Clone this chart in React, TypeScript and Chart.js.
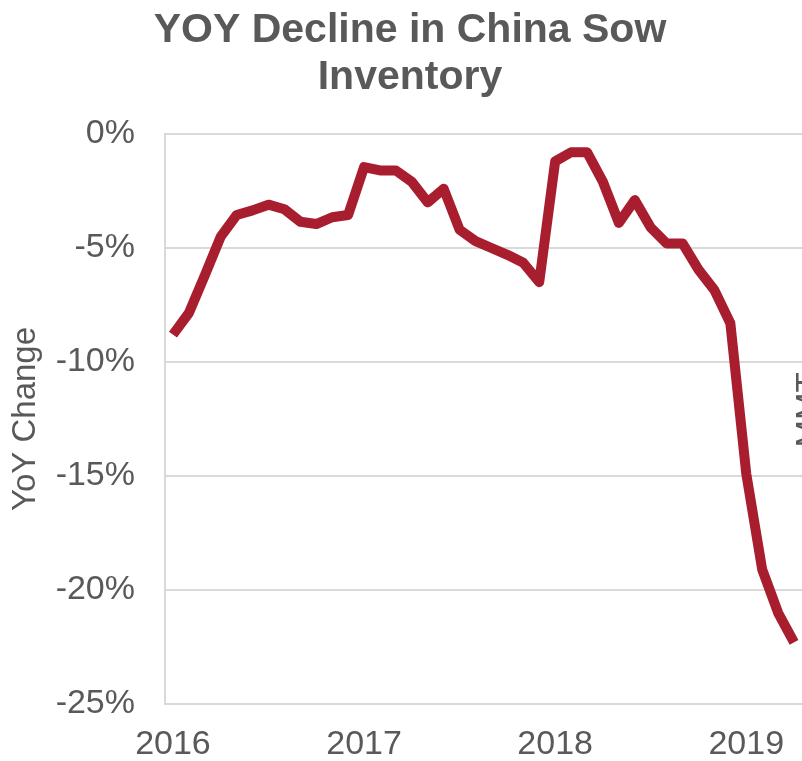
import React, { useEffect, useRef } from "react";
import { Chart, registerables } from "chart.js";

Chart.register(...registerables);

const months: string[] = [
  "2016-01","2016-02","2016-03","2016-04","2016-05","2016-06","2016-07","2016-08","2016-09","2016-10","2016-11","2016-12",
  "2017-01","2017-02","2017-03","2017-04","2017-05","2017-06","2017-07","2017-08","2017-09","2017-10","2017-11","2017-12",
  "2018-01","2018-02","2018-03","2018-04","2018-05","2018-06","2018-07","2018-08","2018-09","2018-10","2018-11","2018-12",
  "2019-01","2019-02","2019-03","2019-04",
];

const yoyChange: number[] = [
  -8.8, -7.85, -6.2, -4.5, -3.55, -3.35, -3.1, -3.3, -3.85, -3.95, -3.65, -3.55,
  -1.45, -1.6, -1.6, -2.1, -3.0, -2.4, -4.2, -4.7, -5.0, -5.3, -5.65, -6.5,
  -1.2, -0.8, -0.8, -2.1, -3.9, -2.9, -4.1, -4.8, -4.8, -5.95, -6.85, -8.3,
  -14.9, -19.1, -21.0, -22.3,
];

const yearLabels: string[] = ["2016", "2017", "2018", "2019"];
const titleLines: string[] = ["YOY Decline in China Sow", "Inventory"];
const yAxisTitle = "YoY Change";
const rightAxisTitle = "MMT";

const FONT = "'Liberation Sans', Arial, sans-serif";
const TEXT = "#595959";
const GRID = "#D9D9D9";

export default function App() {
  const ref = useRef<HTMLCanvasElement | null>(null);

  useEffect(() => {
    document.body.style.margin = "0";
    const canvas = ref.current;
    if (!canvas) return;

    const textPlugin = {
      id: "extraText",
      afterDraw(chart: any) {
        const ctx = chart.ctx as CanvasRenderingContext2D;
        ctx.save();
        ctx.fillStyle = TEXT;
        ctx.font = `bold 41px ${FONT}`;
        ctx.textAlign = "center";
        ctx.textBaseline = "alphabetic";
        ctx.fillText(titleLines[0], 410, 42);
        ctx.fillText(titleLines[1], 410, 89);
        ctx.restore();

        ctx.save();
        ctx.fillStyle = TEXT;
        ctx.font = `33px ${FONT}`;
        ctx.translate(819, 410);
        ctx.rotate(-Math.PI / 2);
        ctx.textAlign = "center";
        ctx.textBaseline = "alphabetic";
        ctx.fillText(rightAxisTitle, 0, 0);
        ctx.restore();
      },
    };

    const chart = new Chart(canvas, {
      type: "line",
      data: {
        labels: months,
        datasets: [
          {
            label: "YoY Change",
            data: yoyChange,
            borderColor: "#A81E2F",
            backgroundColor: "#A81E2F",
            borderWidth: 10,
            pointRadius: 0,
            tension: 0,
            borderJoinStyle: "round",
            borderCapStyle: "butt",
          },
        ],
      },
      options: {
        responsive: false,
        animation: false,
        devicePixelRatio: 1,
        layout: { padding: { top: 134, right: 0, left: 0, bottom: 0 } },
        plugins: {
          legend: { display: false },
          title: { display: false },
          tooltip: { enabled: false },
        },
        scales: {
          x: {
            type: "category",
            offset: true,
            grid: { display: false, drawTicks: false },
            border: { display: true, color: GRID, width: 2 },
            ticks: {
              autoSkip: false,
              maxRotation: 0,
              minRotation: 0,
              padding: 20,
              color: TEXT,
              font: { family: FONT, size: 34 },
              callback: (_v: any, i: number) => (i % 12 === 0 ? yearLabels[i / 12] : ""),
            },
            afterFit: (scale: any) => {
              scale.height = 57;
              scale.paddingLeft = 0;
              scale.paddingRight = 0;
            },
          },
          y: {
            min: -25,
            max: 0,
            grid: { color: GRID, lineWidth: 2, drawTicks: false },
            border: { display: true, color: GRID, width: 2 },
            ticks: {
              stepSize: 5,
              padding: 30,
              color: TEXT,
              font: { family: FONT, size: 34 },
              callback: (v: any) => `${v}%`,
            },
            title: {
              display: true,
              text: yAxisTitle,
              color: TEXT,
              font: { family: FONT, size: 33 },
              padding: { top: 6, bottom: 14 },
            },
            afterFit: (scale: any) => {
              scale.width = 165;
            },
          },
        },
      },
      plugins: [textPlugin],
    });

    return () => chart.destroy();
  }, []);

  return (
    <div style={{ width: 802, height: 761, overflow: "hidden" }}>
      <canvas ref={ref} width={802} height={761} style={{ display: "block", width: 802, height: 761 }} />
    </div>
  );
}
